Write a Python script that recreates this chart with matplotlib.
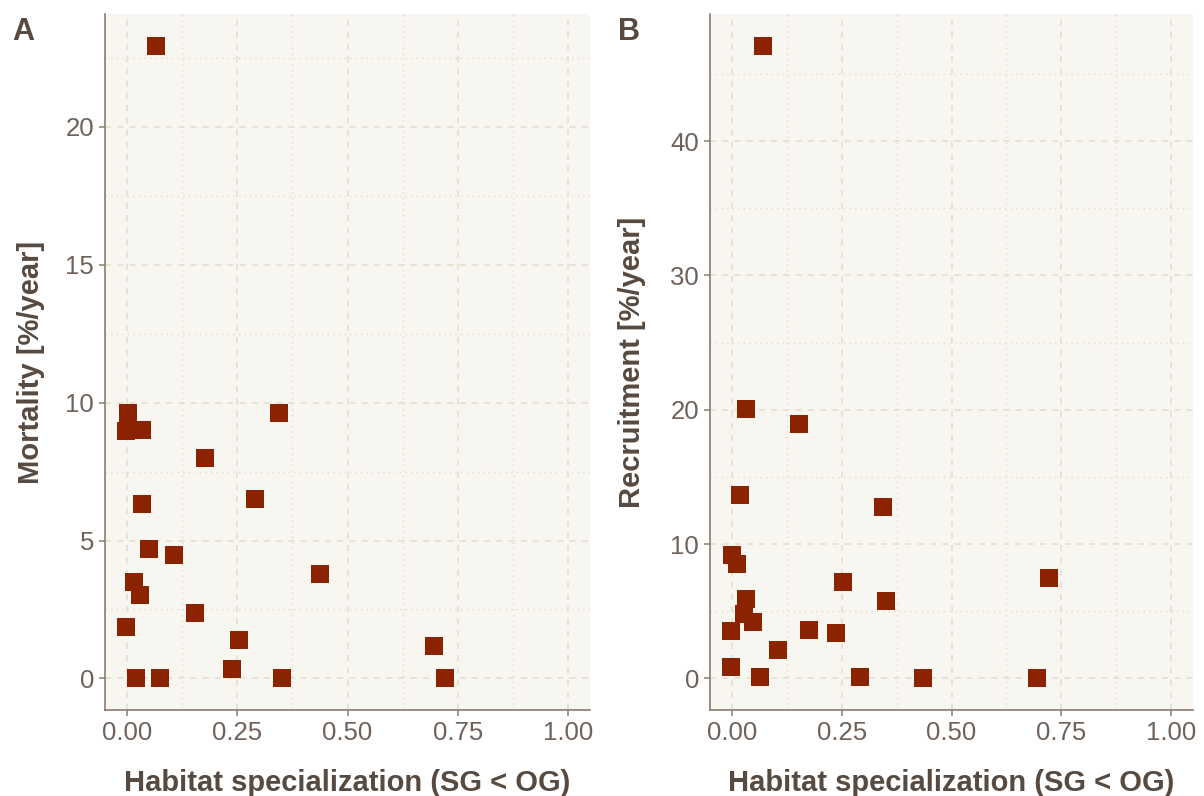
import matplotlib
matplotlib.use("Agg")
import matplotlib.pyplot as plt
from matplotlib import font_manager as fm
from matplotlib.ticker import MultipleLocator

# ---- data ----
spec_mort = [0.066, 0.003, -0.002, 0.035, 0.345, 0.177, 0.291, 0.035, 0.050, 0.106,
             0.437, 0.015, 0.029, -0.002, 0.155, 0.253, 0.696, 0.238, 0.020, 0.074,
             0.351, 0.722]
mortality = [22.95, 9.64, 8.97, 9.0, 9.64, 7.98, 6.49, 6.34, 4.69, 4.48,
             3.80, 3.50, 3.04, 1.85, 2.37, 1.38, 1.16, 0.35, 0.0, 0.0,
             0.0, 0.0]

spec_rec = [0.070, 0.033, 0.153, 0.019, 0.344, 0.000, 0.011, 0.252, 0.721, 0.032,
            0.350, 0.028, 0.048, -0.003, 0.175, 0.236, 0.105, -0.003, 0.063, 0.291,
            0.436, 0.694]
recruitment = [47.1, 20.07, 18.96, 13.64, 12.77, 9.16, 8.54, 7.15, 7.5, 5.89,
               5.77, 4.78, 4.16, 3.49, 3.59, 3.34, 2.10, 0.82, 0.07, 0.07,
               0.0, 0.0]

x_ticks = [0.0, 0.25, 0.5, 0.75, 1.0]
x_ticklabels = ["0.00", "0.25", "0.50", "0.75", "1.00"]
mort_ticks = [0, 5, 10, 15, 20]
rec_ticks = [0, 10, 20, 30, 40]

xlabel = "Habitat specialization (SG < OG)"
ylabel_a = "Mortality [%/year]"
ylabel_b = "Recruitment [%/year]"

# ---- style ----
names = {f.name for f in fm.fontManager.ttflist}
tick_font = "Liberation Sans Narrow" if "Liberation Sans Narrow" in names else "Liberation Sans"
title_font = "Liberation Sans"

panel_bg = "#F8F6F1"
grid_col = "#E4DCCD"
axis_col = "#8C7B6B"
tick_col = "#6E625A"
title_col = "#574A40"
point_col = "#8B2300"

fig = plt.figure(figsize=(12.04, 7.96), dpi=100)
fig.patch.set_facecolor("white")

def style_ax(ax, xv, yv, yticks, ylabel, yminor, ylab_x):
    ax.set_facecolor(panel_bg)
    ax.scatter(xv, yv, marker="s", s=150, color=point_col, linewidths=0, zorder=3)
    ax.set_xlim(-0.05, 1.05)
    ymax = max(yv)
    ax.set_ylim(-0.05 * ymax, ymax * 1.05)
    ax.set_xticks(x_ticks)
    ax.set_xticklabels(x_ticklabels)
    ax.set_yticks(yticks)
    ax.xaxis.set_minor_locator(MultipleLocator(0.125))
    ax.yaxis.set_minor_locator(MultipleLocator(yminor))
    ax.grid(which="major", color=grid_col, linestyle=(0, (4, 4)), linewidth=1.1, zorder=0)
    ax.grid(which="minor", color=grid_col, linestyle=(0, (1, 3)), linewidth=1.0, zorder=0)
    ax.set_axisbelow(True)
    for s in ["top", "right"]:
        ax.spines[s].set_visible(False)
    for s in ["left", "bottom"]:
        ax.spines[s].set_color(axis_col)
        ax.spines[s].set_linewidth(1.2)
    ax.tick_params(which="major", length=4, width=1.1, color=axis_col,
                   labelcolor=tick_col, labelsize=18.5, pad=4)
    ax.tick_params(which="minor", length=0)
    for t in ax.get_xticklabels() + ax.get_yticklabels():
        t.set_fontfamily(tick_font)
    ax.set_xlabel(xlabel, fontsize=21, fontweight="bold", color=title_col,
                  family=title_font, va="center")
    ax.set_ylabel(ylabel, fontsize=21, fontweight="bold", color=title_col,
                  family=title_font, va="center")
    ax.xaxis.set_label_coords(0.5, -0.105)
    ax.yaxis.set_label_coords(ylab_x, 0.5)
    return ax

axA = fig.add_axes([105 / 1204, 86 / 796, 485 / 1204, 696 / 796])
style_ax(axA, spec_mort, mortality, mort_ticks, ylabel_a, 2.5, -0.153)
axB = fig.add_axes([710 / 1204, 86 / 796, 483 / 1204, 696 / 796])
style_ax(axB, spec_rec, recruitment, rec_ticks, ylabel_b, 5, -0.162)

fig.text(12 / 1204, 1 - 32 / 796, "A", fontsize=22, fontweight="bold", color=title_col,
         family=title_font, va="center", ha="left")
fig.text(618 / 1204, 1 - 32 / 796, "B", fontsize=22, fontweight="bold", color=title_col,
         family=title_font, va="center", ha="left")

fig.savefig("out.png", dpi=100, facecolor="white")
